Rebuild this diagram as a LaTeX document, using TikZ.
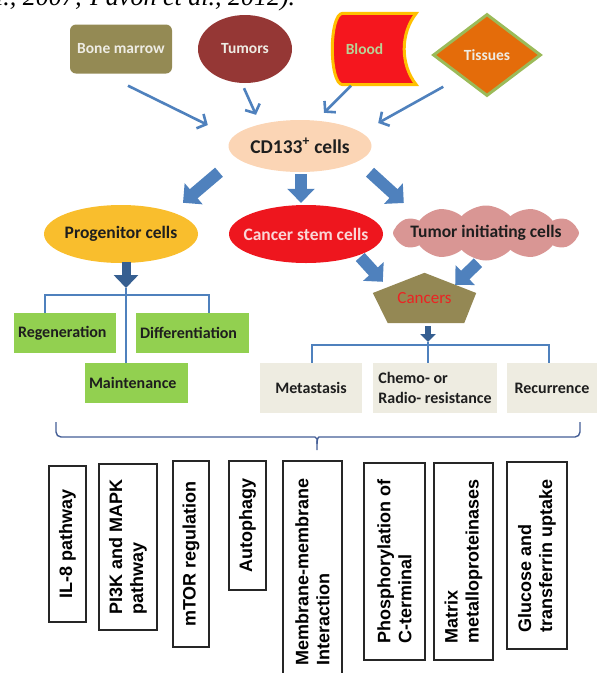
\documentclass[tikz,border=0pt]{standalone}
\usepackage{fontspec}
\setmainfont{Carlito}
\newfontfamily\arialfont{Liberation Sans}
\newfontfamily\timesfont{Liberation Serif}
\usetikzlibrary{positioning, arrows.meta, shapes.geometric, shapes.symbols, backgrounds}
\definecolor{marrowColor}{RGB}{148,138,84}
\definecolor{tumorColor}{RGB}{149,55,53}
\definecolor{bloodColor}{RGB}{245,22,30}
\definecolor{bloodEdge}{RGB}{255,192,0}
\definecolor{tissueColor}{RGB}{228,108,10}
\definecolor{tissueEdge}{RGB}{155,187,89}
\definecolor{cdColor}{RGB}{251,213,181}
\definecolor{progColor}{RGB}{249,190,45}
\definecolor{stemColor}{RGB}{238,22,30}
\definecolor{initColor}{RGB}{217,150,148}
\definecolor{cancerColor}{RGB}{148,136,84}
\definecolor{greenBox}{RGB}{146,208,80}
\definecolor{grayBox}{RGB}{238,236,225}
\definecolor{arrowBlue}{RGB}{79,129,189}
\definecolor{arrowDark}{RGB}{54,95,145}
\definecolor{braceBlue}{RGB}{68,94,150}
\definecolor{lightText}{RGB}{238,236,228}
\definecolor{bloodText}{RGB}{185,210,150}
\definecolor{stemText}{RGB}{250,215,215}
\definecolor{cancerText}{RGB}{235,35,35}
\definecolor{darkText}{RGB}{30,30,30}
\def\rowTop{49}
\def\rowCD{146}
\def\rowCell{234}
\def\rowFate{333}
\def\rowMaint{383}
\def\rowOut{388}

\begin{document}
\begin{tikzpicture}[x=1pt, y=-1pt,
    thinArrow/.style ={-{Straight Barb[length=7pt,width=16pt]}, line width=2.6pt, arrowBlue},
    blockArrow/.style={-{Triangle[length=14pt,width=27pt]}, line width=12pt, arrowBlue},
    darkArrow/.style ={-{Triangle[length=13pt,width=24pt]}, line width=9pt, arrowDark},
    smallArrow/.style={-{Triangle[length=8pt,width=15pt]}, line width=6pt, arrowDark},
    branch/.style    ={line width=1.4pt, arrowBlue},
    braceLine/.style ={line width=1.4pt, braceBlue, rounded corners=5pt},
    citeText/.style  ={inner sep=0pt, font=\timesfont\itshape\fontsize{26}{30}\selectfont},
    srcLabel/.style  ={inner sep=0pt, text=lightText, font=\fontsize{15.5}{18}\selectfont\bfseries},
    cellLabel/.style ={ellipse, minimum width=154pt, minimum height=58pt, inner xsep=-16pt, inner ysep=0pt,
                       text=darkText, font=\fontsize{17.5}{20}\selectfont\bfseries},
    fateBox/.style   ={rectangle, fill=greenBox, minimum height=40pt, inner xsep=4pt, inner ysep=0pt, align=left,
                       text=darkText, font=\fontsize{16}{19}\selectfont\bfseries},
    outBox/.style    ={rectangle, fill=grayBox, minimum height=50pt, inner sep=0pt, align=left,
                       text=darkText, font=\fontsize{16}{19.5}\selectfont\bfseries},
    mechBox/.style   ={rectangle, rotate=90, draw=black!85, line width=1.3pt, fill=white, align=left, inner sep=0pt,
                       font=\arialfont\bfseries\fontsize{18}{21}\selectfont},
]
\useasboundingbox (0,0) rectangle (598,673);

% citation line cut by the top edge
\node[citeText, anchor=base west] (cite) at (-17,5) {al., 2007; Pavon et al., 2012).};

% =====================================================
% TOP ROW: sources
% =====================================================
\node[srcLabel, rectangle, rounded corners=6pt, fill=marrowColor, minimum width=102pt, minimum height=49pt]
                 (bone)    at (121,\rowTop) {Bone marrow};
\node[srcLabel, ellipse, fill=tumorColor, minimum width=94pt, minimum height=68pt]
                 (tumors)  at (245,\rowTop) {Tumors};
\node[srcLabel, text=bloodText, minimum width=83pt, minimum height=71pt]
                 (blood)   at (374.5,\rowTop) {Blood\kern20pt};
\node[srcLabel, diamond, fill=tissueColor, draw=tissueEdge, line width=3pt, minimum width=108pt, minimum height=82pt]
                 (tissues) at (487,55) {Tissues};

% =====================================================
% CENTRE: CD133+ cells and the three cell types
% =====================================================
\node[ellipse, fill=cdColor, minimum width=143pt, minimum height=52pt, inner sep=0pt, text=darkText,
      font=\fontsize{19.5}{22}\selectfont\bfseries] (cd) at (300,\rowCD) {CD133\textsuperscript{+} cells};

\node[cellLabel, fill=progColor]                 (prog) at (121,\rowCell) {Progenitor cells};
\node[cellLabel, fill=stemColor, text=stemText]  (stem) at (306,\rowCell) {Cancer stem cells};
\node[cellLabel, cloud, cloud puffs=12, cloud puff arc=95, cloud ignores aspect, fill=initColor,
      minimum width=186pt, minimum height=55pt]   (init) at (486,233) {Tumor initiating\ cells};

\node[minimum width=103pt, minimum height=50pt, inner sep=0pt, text=cancerText,
      font=\fontsize{17}{20}\selectfont] (cancers) at (424.5,298) {Cancers};

% =====================================================
% Outcome boxes
% =====================================================
\node[fateBox, text width=94pt]  (regen) at (65,\rowFate)     {Regeneration};
\node[fateBox, text width=105pt] (diff)  at (192.5,\rowFate)  {Differentiation};
\node[fateBox, text width=95pt]  (maint) at (136.5,\rowMaint) {Maintenance};

\node[outBox, minimum width=102pt] (metast) at (311,\rowOut) {Metastasis};
\node[outBox, minimum width=124pt] (chemo)  at (435,\rowOut) {Chemo- or\\Radio- resistance};
\node[outBox, minimum width=90pt]  (recur)  at (552,\rowOut) {Recurrence};

% =====================================================
% Mechanisms (rotated)
% =====================================================
\node[mechBox, minimum width=156pt, minimum height=37pt] (il8)    at (67.5,544)   {IL-8 pathway};
\node[mechBox, minimum width=166pt, minimum height=58pt] (pi3k)   at (128,547)    {PI3K and MAPK\\pathway};
\node[mechBox, minimum width=186pt, minimum height=36pt] (mtor)   at (191,554)    {mTOR regulation};
\node[mechBox, minimum width=129pt, minimum height=37pt] (autoph) at (247.5,525.5) {Autophagy};
\node[mechBox, minimum width=221pt, minimum height=59pt] (membr)  at (312.5,571.5) {Membrane-membrane\\Interaction};
\node[mechBox, minimum width=197pt, minimum height=61pt] (phos)   at (394.5,561.5) {Phosphorylation of\\C-terminal};
\node[mechBox, minimum width=197pt, minimum height=59pt] (matrix) at (463.5,561.5) {Matrix\\metalloproteinases};
\node[mechBox, minimum width=187pt, minimum height=60pt] (gluc)   at (537,555.5)  {Glucose and\\transferrin uptake};

% =====================================================
% Shapes behind the labels
% =====================================================
\begin{scope}[on background layer]
    % Blood: flat top and bottom, concave right side
    \filldraw[fill=bloodColor, draw=bloodEdge, line width=3pt]
        ([shift={(10,0)}]blood.north west) -- (blood.north east)
        .. controls ([shift={(-16,20)}]blood.north east) and ([shift={(-16,-20)}]blood.south east) .. (blood.south east)
        -- ([shift={(10,0)}]blood.south west)
        .. controls ([shift={(-4,0)}]blood.south west) and ([shift={(-4,0)}]blood.north west) .. cycle;
    % Cancers pentagon
    \fill[cancerColor] (cancers.north) -- ([shift={(0,-5)}]cancers.east) -- ([shift={(-12,0)}]cancers.south east)
        -- ([shift={(15,0)}]cancers.south west) -- ([shift={(0,-5)}]cancers.west) -- cycle;
\end{scope}

% =====================================================
% Connecting arrows
% =====================================================
\draw[thinArrow] ([shift={(7,12)}]bone.south)          -- ([shift={(-20.5,-21)}]cd.west);
\draw[thinArrow] ([shift={(-1,5)}]tumors.south)        -- ([shift={(-44,-5)}]cd.north);
\draw[thinArrow] ([shift={(-23.5,1)}]blood.south)      -- ([shift={(24,-7)}]cd.north);
\draw[thinArrow] ([shift={(-16,10.5)}]tissues.south west) -- ([shift={(6.5,-23)}]cd.east);

\draw[blockArrow] ([shift={(-81,0)}]cd.south) -- ([shift={(62,-2)}]prog.north);
\draw[blockArrow] ([shift={(1,2)}]cd.south)   -- ([shift={(-5,-2)}]stem.north);
\draw[blockArrow] ([shift={(70,0)}]cd.south)  -- ([shift={(11,-30)}]init.west);

\draw[blockArrow] ([shift={(-23,23)}]stem.east)  -- ([shift={(10,9)}]cancers.north west);
\draw[blockArrow] ([shift={(-8,2)}]init.south)   -- ([shift={(-21,12)}]cancers.north east);

% Progenitor branches
\coordinate (progHub) at (126,295);
\draw[darkArrow] ([shift={(5,-1)}]prog.south) -- ([shift={(0,-7)}]progHub);
\draw[branch] ([shift={(-20,0)}]regen.north) |- (progHub) -| ([shift={(16.5,0)}]diff.north);
\draw[branch] ([shift={(0,-7)}]progHub) -- (progHub |- maint.north);

% Cancers branches
\coordinate (outHub) at (428,345);
\draw[smallArrow] ([shift={(3.5,3)}]cancers.south) -- ([shift={(0,-3)}]outHub);
\draw[branch] ([shift={(1,0)}]metast.north) |- (outHub) -| ([shift={(-3,0)}]recur.north);
\draw[branch] ([shift={(0,-3)}]outHub) -- (outHub |- chemo.north);

% Brace over the mechanisms
\coordinate (braceL)   at (56,422);
\coordinate (braceR)   at (580,422);
\coordinate (braceTip) at (317,450);
\draw[braceLine] (braceL) |- ([shift={(-7,-13)}]braceTip)
    .. controls ([shift={(-1,-13)}]braceTip) and ([shift={(0,-10)}]braceTip) .. ([shift={(0,-6)}]braceTip)
    -- (braceTip);
\draw[braceLine] (braceR) |- ([shift={(7,-13)}]braceTip)
    .. controls ([shift={(1,-13)}]braceTip) and ([shift={(0,-10)}]braceTip) .. ([shift={(0,-6)}]braceTip);

\end{tikzpicture}
\end{document}
